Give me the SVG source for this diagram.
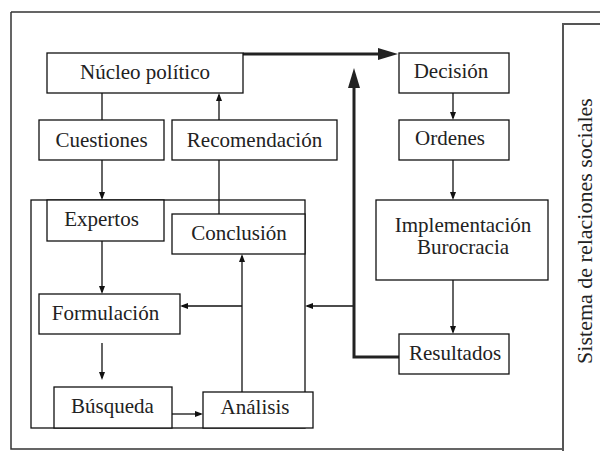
<svg xmlns="http://www.w3.org/2000/svg" width="600" height="451" viewBox="0 0 600 451" font-family="'Liberation Serif', 'Times New Roman', 'DejaVu Serif', serif">
<style>
.box{fill:#fff;stroke:#111;stroke-width:1.3}
text{font-family:'Liberation Serif','Times New Roman','DejaVu Serif',serif;font-size:21px;fill:#222;text-anchor:middle}
.thin{fill:none;stroke:#111;stroke-width:1.3}
.thick{fill:none;stroke:#222;stroke-width:3}
</style>
<defs>
<marker id="a" markerUnits="userSpaceOnUse" markerWidth="8" markerHeight="6" refX="6" refY="3" orient="auto"><path d="M0,0 L8,3 L0,6 z" fill="#111"/></marker>
<marker id="A" markerUnits="userSpaceOnUse" markerWidth="20" markerHeight="12" refX="10" refY="6" orient="auto"><path d="M0,0 L20,6 L0,12 z" fill="#222"/></marker>
</defs>
<g id="frame">
<path d="M11,12 H600 M11,12 V449 H563" fill="none" stroke="#333" stroke-width="1.5"/>
<path d="M563,451 V24 H600" fill="none" stroke="#555" stroke-width="2"/>
<text transform="translate(592,231) rotate(-90)" style="font-size:22px">Sistema de relaciones sociales</text>
</g>
<g id="grupo-expertos"><rect x="31" y="200" width="274" height="228" fill="none" stroke="#111" stroke-width="1.3"/></g>
<g id="connectors">
<path class="thin" d="M102,93 V120"/>
<path class="thin" d="M102,160 V198" marker-end="url(#a)"/>
<path class="thin" d="M219,214 V160"/>
<path class="thin" d="M219,120 V95" marker-end="url(#a)"/>
<path class="thin" d="M102,241 V292" marker-end="url(#a)"/>
<path class="thin" d="M102,343 V378" marker-end="url(#a)"/>
<path class="thin" d="M172,414 H201" marker-end="url(#a)"/>
<path class="thin" d="M242,392 V256" marker-end="url(#a)"/>
<path class="thin" d="M242,306 H182" marker-end="url(#a)"/>
<path class="thin" d="M354,306 H307" marker-end="url(#a)"/>
<path class="thin" d="M453,93 V118" marker-end="url(#a)"/>
<path class="thin" d="M453,160 V198" marker-end="url(#a)"/>
<path class="thin" d="M453,280 V332" marker-end="url(#a)"/>
<path class="thick" d="M243,54 H388" marker-end="url(#A)"/>
<path class="thick" d="M399,357 H354 V78" marker-end="url(#A)"/>
</g>
<g id="nucleo"><rect class="box" x="47" y="53" width="196" height="40"/><text x="145" y="79">Núcleo político</text></g>
<g id="cuestiones"><rect class="box" x="39" y="120" width="125" height="40"/><text x="101.5" y="147">Cuestiones</text></g>
<g id="recomendacion"><rect class="box" x="172" y="120" width="165" height="40"/><text x="254.5" y="147">Recomendación</text></g>
<g id="decision"><rect class="box" x="399" y="53" width="110" height="40"/><text x="451" y="78">Decisión</text></g>
<g id="ordenes"><rect class="box" x="399" y="120" width="110" height="40"/><text x="450" y="145">Ordenes</text></g>
<g id="implementacion"><rect class="box" x="376" y="200" width="172" height="80"/><text x="463" y="232">Implementación</text><text x="463" y="254">Burocracia</text></g>
<g id="resultados"><rect class="box" x="399" y="334" width="110" height="40"/><text x="455" y="360">Resultados</text></g>
<g id="expertos"><rect class="box" x="47" y="200" width="117" height="41"/><text x="101.5" y="226">Expertos</text></g>
<g id="conclusion"><rect class="box" x="172" y="214" width="133" height="40"/><text x="239" y="240">Conclusión</text></g>
<g id="formulacion"><rect class="box" x="39" y="294" width="141" height="40"/><text x="105.5" y="320">Formulación</text></g>
<g id="busqueda"><rect class="box" x="54" y="387" width="118" height="41"/><text x="112.5" y="413">Búsqueda</text></g>
<g id="analisis"><rect class="box" x="203" y="392" width="110" height="36"/><text x="255" y="414">Análisis</text></g>
</svg>
